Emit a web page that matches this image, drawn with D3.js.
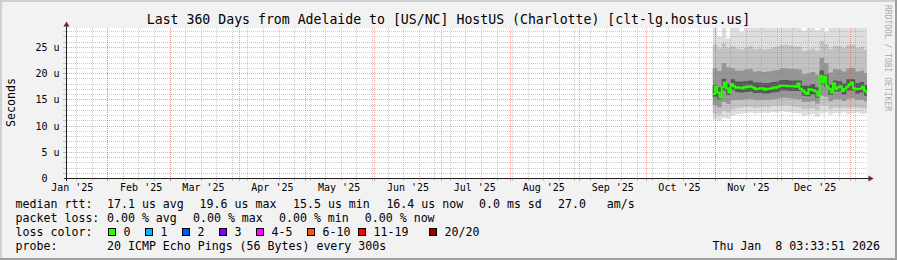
<!DOCTYPE html>
<html>
<head>
<meta charset="utf-8">
<script src="https://cdn.jsdelivr.net/npm/d3@7"></script>
<style>
  html, body { margin: 0; padding: 0; background: #f2f2f2; }
  svg { display: block; }
  text { font-family: "DejaVu Sans Mono", monospace; white-space: pre; }
</style>
</head>
<body>
<div id="chart"></div>
<script>
////////////////////////////////////////////////////////////////
// Data

const title = "Last 360 Days from Adelaide to [US/NC] HostUS (Charlotte) [clt-lg.hostus.us]";
const timeStart = new Date(Date.UTC(2025, 0, 13, 15, 50));
const timeEnd = new Date(Date.UTC(2026, 0, 8, 7, 40));
const yMax = 28.6; // micro seconds at top of plot
const yMajor = [5, 10, 15, 20, 25];
const yLabels = ["0", "5 u", "10 u", "15 u", "20 u", "25 u"];

// median rtt, one value per day starting 2025-10-31 (us)
const medianStart = new Date(Date.UTC(2025, 9, 31));
const medianRtt = [
  16.1, 17.5, 16.4, 15.5, 17.4, 18.3, 17.2, 16.4, 18.0, 17.6,
  17.3, 17.4, 17.3, 17.2, 17.5, 17.4, 17.6, 17.5, 17.3, 17.0,
  17.1, 17.2, 17.2, 16.9, 17.1, 17.1, 17.2, 17.4, 17.3, 17.5,
  17.7, 17.7, 17.7, 17.6, 17.6, 17.6, 17.6, 17.5, 18.1, 17.1,
  16.8, 16.4, 16.1, 17.0, 16.9, 16.8, 16.6, 15.8, 19.6, 18.3,
  19.4, 17.6, 17.1, 16.4, 18.1, 17.0, 17.4, 17.6, 16.7, 17.1,
  17.5, 17.9, 18.3, 17.2, 17.0, 17.1, 17.1, 17.5, 16.7, 16.4
];

// smoke: sorted ping ranks, one column per 2 days starting 2025-10-31 (us)
const smokeStep = 2;
const ping01 = [11.2, 11.0, 11.6, 11.4, 12.0, 12.3, 12.4, 12.5, 12.6, 12.4, 12.5, 12.6, 12.5, 12.7, 12.6, 12.8, 12.7, 12.6, 12.5, 12.4, 12.0, 12.2, 12.3, 11.8, 12.4, 12.6, 12.2, 12.5, 12.4, 12.6, 12.3, 12.5, 12.6, 12.3, 12.4];
const ping03 = [12.4, 12.2, 12.8, 12.6, 13.2, 13.5, 13.6, 13.7, 13.7, 13.5, 13.6, 13.7, 13.6, 13.8, 13.8, 13.9, 13.9, 13.8, 13.7, 13.6, 13.2, 13.3, 13.4, 13.0, 13.9, 13.9, 13.3, 13.6, 13.5, 13.6, 13.5, 13.6, 13.6, 13.4, 13.4];
const ping06 = [14.0, 13.6, 14.6, 14.2, 14.9, 15.0, 15.0, 15.1, 15.2, 15.0, 15.0, 15.0, 15.0, 15.1, 15.2, 15.4, 15.4, 15.3, 15.2, 15.1, 14.6, 14.6, 14.8, 14.3, 15.8, 15.6, 14.7, 15.1, 15.1, 14.8, 15.2, 15.3, 15.0, 15.0, 14.7];
const ping09 = [15.6, 15.1, 16.8, 15.9, 16.9, 16.5, 16.4, 16.5, 16.6, 16.3, 16.3, 16.2, 16.2, 16.4, 16.5, 16.8, 16.8, 16.7, 16.7, 16.7, 15.8, 15.7, 16.0, 15.4, 17.9, 17.5, 15.9, 16.6, 16.6, 16.0, 16.8, 16.8, 16.2, 16.4, 15.8];
const ping12 = [17.8, 17.4, 19.0, 18.1, 18.9, 18.5, 18.5, 18.6, 18.7, 18.3, 18.3, 18.2, 18.2, 18.4, 18.5, 18.8, 18.8, 18.7, 18.7, 18.7, 17.7, 17.7, 18.0, 17.4, 20.6, 19.8, 17.9, 18.7, 18.6, 18.1, 18.9, 18.9, 18.2, 18.4, 17.8];
const ping15 = [21.0, 20.5, 22.0, 21.2, 21.0, 20.6, 20.6, 20.8, 20.9, 20.4, 20.5, 20.3, 20.4, 20.6, 20.7, 21.0, 21.0, 20.9, 20.9, 20.8, 19.9, 20.0, 20.3, 19.8, 23.0, 22.0, 20.2, 20.9, 20.8, 20.4, 21.0, 21.1, 20.4, 20.6, 20.1];
const ping18 = [25.5, 24.8, 25.8, 25.0, 25.2, 24.8, 24.6, 25.0, 25.2, 24.7, 24.8, 24.6, 24.7, 25.0, 25.1, 25.4, 25.5, 25.3, 25.2, 25.1, 24.3, 24.5, 24.8, 24.4, 26.2, 25.6, 24.7, 25.3, 25.2, 24.9, 25.4, 25.5, 24.9, 25.1, 24.6];
const ping20 = [30.0, 27.0, 29.5, 26.7, 30.0, 29.5, 28.0, 30.0, 30.0, 29.6, 30.0, 30.0, 29.8, 30.0, 30.0, 30.0, 30.0, 30.0, 30.0, 30.0, 28.2, 30.0, 29.7, 28.3, 30.0, 28.0, 30.0, 30.0, 29.6, 30.0, 30.0, 30.0, 30.0, 30.0, 30.0];

const lossNames = ["0", "1", "2", "3", "4-5", "6-10", "11-19", "20/20"];
const lossColors = ["#26ff00", "#00b8ff", "#0059ff", "#7e00ff", "#ff00ff", "#ff5500", "#ff0000", "#a10000"];

////////////////////////////////////////////////////////////////
// Layout

const width = 897;
const height = 260;
const plot = { left: 67, right: 867, top: 28, bottom: 178 };

const x = d3.scaleUtc([timeStart, timeEnd], [plot.left, plot.right]);
const y = d3.scaleLinear([0, yMax], [plot.bottom + 0.5, plot.top + 0.5]);
const px = v => Math.floor(v) + 0.5;

const svg = d3.select("#chart").append("svg")
  .attr("width", width)
  .attr("height", height)
  .attr("viewBox", [0, 0, width, height]);

// background and 3d frame
svg.append("rect").attr("width", width).attr("height", height).attr("fill", "#f2f2f2");
svg.append("path").attr("d", `M0,0H${width}V2H2V${height}H0Z`).attr("fill", "#cfcfcf");
svg.append("path").attr("d", `M${width},${height}H0V${height - 2}H${width - 2}V0H${width}Z`).attr("fill", "#9e9e9e");

// canvas
svg.append("rect")
  .attr("x", plot.left).attr("y", plot.top)
  .attr("width", plot.right - plot.left).attr("height", plot.bottom - plot.top + 1)
  .attr("fill", "#ffffff");

svg.append("clipPath").attr("id", "clip")
  .append("rect")
  .attr("x", plot.left).attr("y", plot.top)
  .attr("width", plot.right - plot.left).attr("height", plot.bottom - plot.top);

////////////////////////////////////////////////////////////////
// Smoke

const smokeCols = ping01.map((_, j) => d3.utcDay.offset(medianStart, j * smokeStep));
const smokeBands = [
  { lo: ping01, hi: ping20, color: "#dedede" },
  { lo: ping03, hi: ping18, color: "#c3c3c3" },
  { lo: ping06, hi: ping15, color: "#969696" },
  { lo: ping09, hi: ping12, color: "#565656" }
];

const smokeArea = d3.area()
  .curve(d3.curveStepAfter)
  .x(d => x(d.date))
  .y0(d => y(d.lo))
  .y1(d => y(d.hi));

const gSmoke = svg.append("g").attr("clip-path", "url(#clip)");
gSmoke.selectAll("path")
  .data(smokeBands)
  .join("path")
  .attr("fill", d => d.color)
  .attr("d", band => {
    const pts = smokeCols.map((date, j) => ({ date, lo: band.lo[j], hi: band.hi[j] }));
    const last = pts[pts.length - 1];
    pts.push({ date: d3.utcDay.offset(last.date, smokeStep), lo: last.lo, hi: last.hi });
    return smokeArea(pts);
  });

////////////////////////////////////////////////////////////////
// Grid

const gridColor = "rgba(143,143,143,0.45)";
const mgridColor = "rgba(222,79,79,0.5)";
const gGrid = svg.append("g").attr("shape-rendering", "crispEdges");

const yMinor = d3.range(1, Math.floor(yMax) + 1).filter(v => v % 5 !== 0);
const xMinor = d3.utcSaturday.range(timeStart, timeEnd);
const xMajor = d3.utcMonth.range(timeStart, timeEnd);

gGrid.selectAll(".hmin").data(yMinor).join("line")
  .attr("x1", plot.left).attr("x2", plot.right)
  .attr("y1", d => px(y(d))).attr("y2", d => px(y(d)))
  .attr("stroke", gridColor).attr("stroke-dasharray", "1,1");

gGrid.selectAll(".vmin").data(xMinor).join("line")
  .attr("x1", d => px(x(d))).attr("x2", d => px(x(d)))
  .attr("y1", plot.top).attr("y2", plot.bottom)
  .attr("stroke", gridColor).attr("stroke-dasharray", "1,1");

gGrid.selectAll(".hmaj").data(yMajor).join("line")
  .attr("x1", plot.left).attr("x2", plot.right)
  .attr("y1", d => px(y(d))).attr("y2", d => px(y(d)))
  .attr("stroke", mgridColor).attr("stroke-dasharray", "1,1");

gGrid.selectAll(".vmaj").data(xMajor).join("line")
  .attr("x1", d => px(x(d))).attr("x2", d => px(x(d)))
  .attr("y1", plot.top).attr("y2", plot.bottom)
  .attr("stroke", mgridColor).attr("stroke-dasharray", "1,1");

// small ticks outside the axes
const gTicks = svg.append("g").attr("shape-rendering", "crispEdges");
gTicks.selectAll(".tx").data(xMinor).join("line")
  .attr("x1", d => px(x(d))).attr("x2", d => px(x(d)))
  .attr("y1", plot.bottom + 1).attr("y2", plot.bottom + 3)
  .attr("stroke", gridColor);
gTicks.selectAll(".txm").data(xMajor).join("line")
  .attr("x1", d => px(x(d))).attr("x2", d => px(x(d)))
  .attr("y1", plot.bottom + 1).attr("y2", plot.bottom + 3)
  .attr("stroke", mgridColor);
gTicks.selectAll(".ty").data(yMinor).join("line")
  .attr("x1", plot.left - 4).attr("x2", plot.left - 1)
  .attr("y1", d => px(y(d))).attr("y2", d => px(y(d)))
  .attr("stroke", gridColor);
gTicks.selectAll(".tym").data(yMajor).join("line")
  .attr("x1", plot.left - 4).attr("x2", plot.left - 1)
  .attr("y1", d => px(y(d))).attr("y2", d => px(y(d)))
  .attr("stroke", mgridColor);

////////////////////////////////////////////////////////////////
// Median rtt

const medianPts = medianRtt.map((v, i) => ({ date: d3.utcDay.offset(medianStart, i), v }));
medianPts.push({ date: timeEnd, v: medianRtt[medianRtt.length - 1] });

svg.append("path")
  .attr("clip-path", "url(#clip)")
  .attr("fill", "none")
  .attr("stroke", lossColors[0])
  .attr("stroke-width", 2)
  .attr("d", d3.line().curve(d3.curveStepAfter).x(d => x(d.date)).y(d => y(d.v))(medianPts));

////////////////////////////////////////////////////////////////
// Axes

const axisColor = "#1f1f1f";
const arrowColor = "#801f1f";
const x0 = plot.left - 0.5;
const y0 = plot.bottom + 0.5;

svg.append("line")
  .attr("x1", plot.left - 3).attr("x2", plot.right + 2)
  .attr("y1", y0).attr("y2", y0)
  .attr("stroke", axisColor).attr("shape-rendering", "crispEdges");
svg.append("line")
  .attr("x1", x0).attr("x2", x0)
  .attr("y1", plot.bottom + 3).attr("y2", plot.top - 2)
  .attr("stroke", axisColor).attr("shape-rendering", "crispEdges");

svg.append("path")
  .attr("d", `M${x0 - 3},${plot.top - 1.5}L${x0 + 3},${plot.top - 1.5}L${x0},${plot.top - 6.5}Z`)
  .attr("fill", arrowColor);
svg.append("path")
  .attr("d", `M${plot.right + 1.5},${y0 - 3}L${plot.right + 1.5},${y0 + 3}L${plot.right + 6.5},${y0}Z`)
  .attr("fill", arrowColor);

// y labels ("0" sits two columns left, like rrdtool's padded label)
svg.append("g")
  .attr("font-size", "10px")
  .attr("text-anchor", "end")
  .selectAll("text")
  .data([0].concat(yMajor))
  .join("text")
  .attr("x", d => d === 0 ? 47.6 : 59.6)
  .attr("y", d => px(y(d)) + 3.5)
  .text((d, i) => yLabels[i]);

// x labels: centred 15 days after month start
const monthFmt = d3.utcFormat("%b '%y");
const labelMonths = d3.utcMonth.range(d3.utcMonth.floor(timeStart), timeEnd)
  .filter(m => d3.utcDay.offset(m, 15) < timeEnd);
svg.append("g")
  .attr("font-size", "10px")
  .attr("text-anchor", "middle")
  .selectAll("text")
  .data(labelMonths)
  .join("text")
  .attr("x", d => x(d3.utcDay.offset(d, 15)))
  .attr("y", 190.5)
  .text(d => monthFmt(d));

// titles
svg.append("text")
  .attr("x", width / 2)
  .attr("y", 23.7)
  .attr("font-size", "13.2px")
  .attr("text-anchor", "middle")
  .text(title);

svg.append("text")
  .attr("transform", "translate(15,102.5) rotate(-90)")
  .attr("font-size", "11.6px")
  .attr("text-anchor", "middle")
  .text("Seconds");

svg.append("text")
  .attr("transform", "translate(885,5) rotate(90)")
  .attr("font-size", "8px")
  .attr("fill", "#ababab")
  .text("RRDTOOL / TOBI OETIKER");

////////////////////////////////////////////////////////////////
// Legend

const legendRows = [
  { y: 208, items: [[15.6, "median rtt:"], [107, "17.1 us avg"], [199.6, "19.6 us max"], [293, "15.5 us min"], [386.4, "16.4 us now"], [479, "0.0 ms sd"], [558, "27.0   am/s"]] },
  { y: 222, items: [[15.6, "packet loss:"], [107, "0.00 % avg"], [193, "0.00 % max"], [279, "0.00 % min"], [364.8, "0.00 % now"]] },
  { y: 236, items: [[15.6, "loss color:"]] },
  { y: 250, items: [[15.6, "probe:"], [107, "20 ICMP Echo Pings (56 Bytes) every 300s"]] }
];

const gLegend = svg.append("g").attr("font-size", "11.6px");
legendRows.forEach(row => {
  gLegend.append("g").selectAll("text")
    .data(row.items)
    .join("text")
    .attr("x", d => d[0])
    .attr("y", row.y)
    .text(d => d[1]);
});

const boxX = [108.5, 145.5, 182.5, 219.5, 256.5, 307.5, 358.5, 429.5];
const gLoss = gLegend.append("g");
gLoss.selectAll("rect")
  .data(lossColors)
  .join("rect")
  .attr("x", (d, i) => boxX[i]).attr("y", 228.5)
  .attr("width", 7).attr("height", 7)
  .attr("fill", d => d)
  .attr("stroke", "#000")
  .attr("shape-rendering", "crispEdges");
gLoss.selectAll("text")
  .data(lossNames)
  .join("text")
  .attr("x", (d, i) => boxX[i] + 15)
  .attr("y", 236)
  .text(d => d);

gLegend.append("text")
  .attr("x", 880)
  .attr("y", 250)
  .attr("text-anchor", "end")
  .text("Thu Jan  8 03:33:51 2026");
</script>
</body>
</html>
